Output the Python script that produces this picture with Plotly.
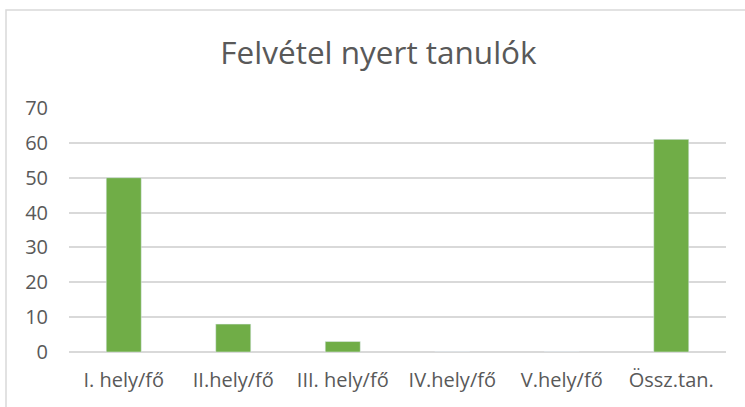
import plotly.graph_objects as go

categories = ["I. hely/fő", "II.hely/fő", "III. hely/fő", "IV.hely/fő", "V.hely/fő", "Össz.tan."]
values = [50, 8, 3, 0, 0, 61]
y_ticks = [0, 10, 20, 30, 40, 50, 60, 70]

W, H = 745, 407
L, R, T, B = 69, 19, 108, 55
pw = W - L - R
ph = H - T - B

def px_x(x):
    return (x - L) / pw

def px_y(y):
    return (H - B - y) / ph

fig = go.Figure(go.Bar(x=categories, y=values, marker_color="#70ad47", width=0.32))

font = "Open Sans"
fig.update_layout(
    width=W, height=H,
    margin=dict(l=L, r=R, t=T, b=B),
    paper_bgcolor="white", plot_bgcolor="white",
    showlegend=False,
    title=dict(text="Felvétel nyert tanulók", x=px_x(378.5), xref="paper", xanchor="center",
               y=1 - 53 / H, yref="container", yanchor="middle",
               font=dict(family=font, size=31.5, color="#595959")),
    font=dict(family=font, color="#595959"),
    shapes=[dict(type="rect", xref="paper", yref="paper",
                 x0=px_x(6), y0=px_y(420), x1=px_x(760), y1=px_y(10),
                 line=dict(color="#d9d9d9", width=1.5), fillcolor="rgba(0,0,0,0)", layer="below")],
)
fig.update_yaxes(range=[0, 70], tickvals=y_ticks, showgrid=True, gridcolor="#d9d9d9", gridwidth=1.5,
                 zeroline=True, zerolinecolor="#d9d9d9", zerolinewidth=1.5, showline=False,
                 tickfont=dict(size=20, color="#595959"), ticklabelstandoff=20, fixedrange=True)
fig.update_xaxes(showgrid=False, showline=False, tickfont=dict(size=20, color="#595959"),
                 ticklabelstandoff=14, tickangle=0)
fig.write_html("out.html", config={"displayModeBar": False},
               post_script="document.body.style.margin='0';document.body.style.overflow='hidden';")
